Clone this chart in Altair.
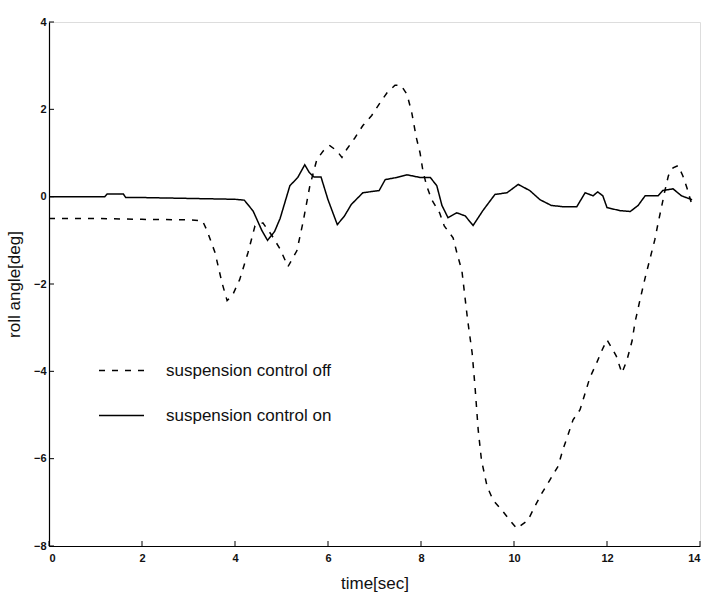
import altair as alt
import pandas as pd

# ---- data ----
t_off = [0, 1, 2, 3, 3.3, 3.4, 3.57, 3.72, 3.83, 3.95, 4.1, 4.28, 4.43, 4.6, 4.8,
         4.97, 5.14, 5.33, 5.46, 5.61, 5.76, 5.9, 6.04, 6.19, 6.3, 6.4, 6.58, 6.75,
         6.94, 7.12, 7.27, 7.44, 7.57, 7.7, 7.8, 7.9, 7.98, 8.04, 8.12, 8.23, 8.4,
         8.5, 8.69, 8.77, 8.88, 9.0, 9.1, 9.16, 9.23, 9.3, 9.42, 9.55, 9.74, 9.91,
         10.06, 10.3, 10.45, 10.6, 10.77, 10.95, 11.05, 11.16, 11.27, 11.42, 11.53,
         11.63, 11.78, 11.9, 12.0, 12.1, 12.2, 12.32, 12.43, 12.54, 12.6, 12.71,
         12.82, 12.92, 13.03, 13.1, 13.18, 13.25, 13.32, 13.42, 13.53, 13.63, 13.72,
         13.83]
y_off = [-0.5, -0.5, -0.52, -0.53, -0.55, -0.78, -1.28, -1.97, -2.38, -2.25, -1.9,
         -1.28, -0.67, -0.6, -0.9, -1.2, -1.6, -1.24, -0.6, 0.25, 0.85, 1.05, 1.17,
         1.05, 0.9, 1.08, 1.35, 1.63, 1.86, 2.15, 2.38, 2.55, 2.55, 2.34, 1.93, 1.35,
         1.0, 0.6, 0.25, -0.07, -0.37, -0.67, -0.94, -1.28, -1.7, -2.8, -3.58, -4.33,
         -5.34, -6.03, -6.63, -6.95, -7.18, -7.41, -7.6, -7.41, -7.09, -6.79, -6.49,
         -6.17, -5.8, -5.46, -5.11, -4.88, -4.5, -4.15, -3.8, -3.5, -3.28, -3.46,
         -3.65, -4.04, -3.74, -3.3, -2.89, -2.36, -1.86, -1.44, -0.98, -0.6, -0.2,
         0.16, 0.48, 0.66, 0.71, 0.48, 0.2, -0.2]

t_on = [0, 1.2, 1.25, 1.6, 1.65, 2.0, 3.0, 4.0, 4.2, 4.39, 4.58, 4.7, 4.85, 4.97,
        5.18, 5.35, 5.5, 5.6, 5.7, 5.85, 6.0, 6.2, 6.35, 6.5, 6.75, 7.1, 7.23, 7.48,
        7.7, 7.98, 8.2, 8.34, 8.45, 8.58, 8.77, 8.95, 9.12, 9.33, 9.59, 9.85, 10.09,
        10.34, 10.56, 10.8, 11.05, 11.35, 11.53, 11.7, 11.8, 11.91, 12.0, 12.28,
        12.5, 12.67, 12.82, 13.1, 13.2, 13.42, 13.6, 13.83]
y_on = [0, 0, 0.06, 0.06, -0.02, -0.02, -0.04, -0.06, -0.08, -0.33, -0.78, -1.0,
        -0.8, -0.5, 0.25, 0.44, 0.73, 0.55, 0.45, 0.45, -0.07, -0.64, -0.45, -0.18,
        0.09, 0.14, 0.39, 0.44, 0.5, 0.44, 0.44, 0.25, -0.2, -0.48, -0.37, -0.44,
        -0.66, -0.32, 0.05, 0.09, 0.28, 0.14, -0.07, -0.2, -0.23, -0.23, 0.09, 0.02,
        0.11, 0.02, -0.25, -0.32, -0.34, -0.2, 0.02, 0.02, 0.14, 0.18, 0.02, -0.07]

series_names = ["suspension control off", "suspension control on"]
x_ticks = [0, 2, 4, 6, 8, 10, 12, 14]
y_ticks = [-8, -6, -4, -2, 0, 2, 4]

df = pd.concat([
    pd.DataFrame({"t": t_off, "v": y_off, "series": series_names[0], "o": range(len(t_off))}),
    pd.DataFrame({"t": t_on, "v": y_on, "series": series_names[1], "o": range(len(t_on))}),
])

W, H = 651, 524
FONT = "Liberation Sans"

xs = alt.Scale(domain=[0, 14], nice=False, zero=False)
ys = alt.Scale(domain=[-8, 4], nice=False, zero=False)

lines = alt.Chart(df).mark_line(color="black", strokeWidth=1.5).encode(
    x=alt.X("t:Q", scale=xs,
            axis=alt.Axis(values=x_ticks, title="time[sec]", grid=False, ticks=False,
                          domainColor="black", domainWidth=1.2, labelFont=FONT,
                          labelFontSize=11, labelFontWeight="bold", labelColor="#111",
                          labelPadding=6, titleFont=FONT, titleFontSize=17,
                          titleFontWeight="normal", titleColor="#111", titlePadding=12)),
    y=alt.Y("v:Q", scale=ys,
            axis=alt.Axis(values=y_ticks, title="roll angle[deg]", grid=False, ticks=False,
                          domainColor="black", domainWidth=1.2, labelFont=FONT,
                          labelFontSize=11, labelFontWeight="bold", labelColor="#111",
                          labelPadding=3, titleFont=FONT, titleFontSize=17,
                          titleFontWeight="normal", titleColor="#111", titlePadding=10)),
    order="o:Q",
    strokeDash=alt.StrokeDash(
        "series:N",
        scale=alt.Scale(domain=series_names, range=[[6, 7], [1, 0]]),
        legend=alt.Legend(title=None, orient="none", legendX=49, legendY=325,
                          symbolType="stroke", symbolSize=2025, symbolStrokeColor="black",
                          symbolStrokeWidth=1.5, labelFont=FONT, labelFontSize=17,
                          labelColor="#111", labelOffset=21, rowPadding=13,
                          labelLimit=400, symbolOffset=0),
    ),
)

xtick = alt.Chart(pd.DataFrame({"t": x_ticks})).mark_rule(color="black", strokeWidth=1).encode(
    x=alt.X("t:Q", scale=xs), y=alt.value(H), y2=alt.value(H - 5))
ytick = alt.Chart(pd.DataFrame({"v": y_ticks})).mark_rule(color="black", strokeWidth=1).encode(
    y=alt.Y("v:Q", scale=ys), x=alt.value(0), x2=alt.value(5))

chart = alt.layer(lines, xtick, ytick).properties(
    width=W, height=H,
    autosize=alt.AutoSizeParams(type="none"),
    padding={"left": 49, "top": 22, "right": 7, "bottom": 51},
).configure_view(stroke=None).configure(background="white")

chart.save("out.html", embed_options={"renderer": "svg", "actions": False})
